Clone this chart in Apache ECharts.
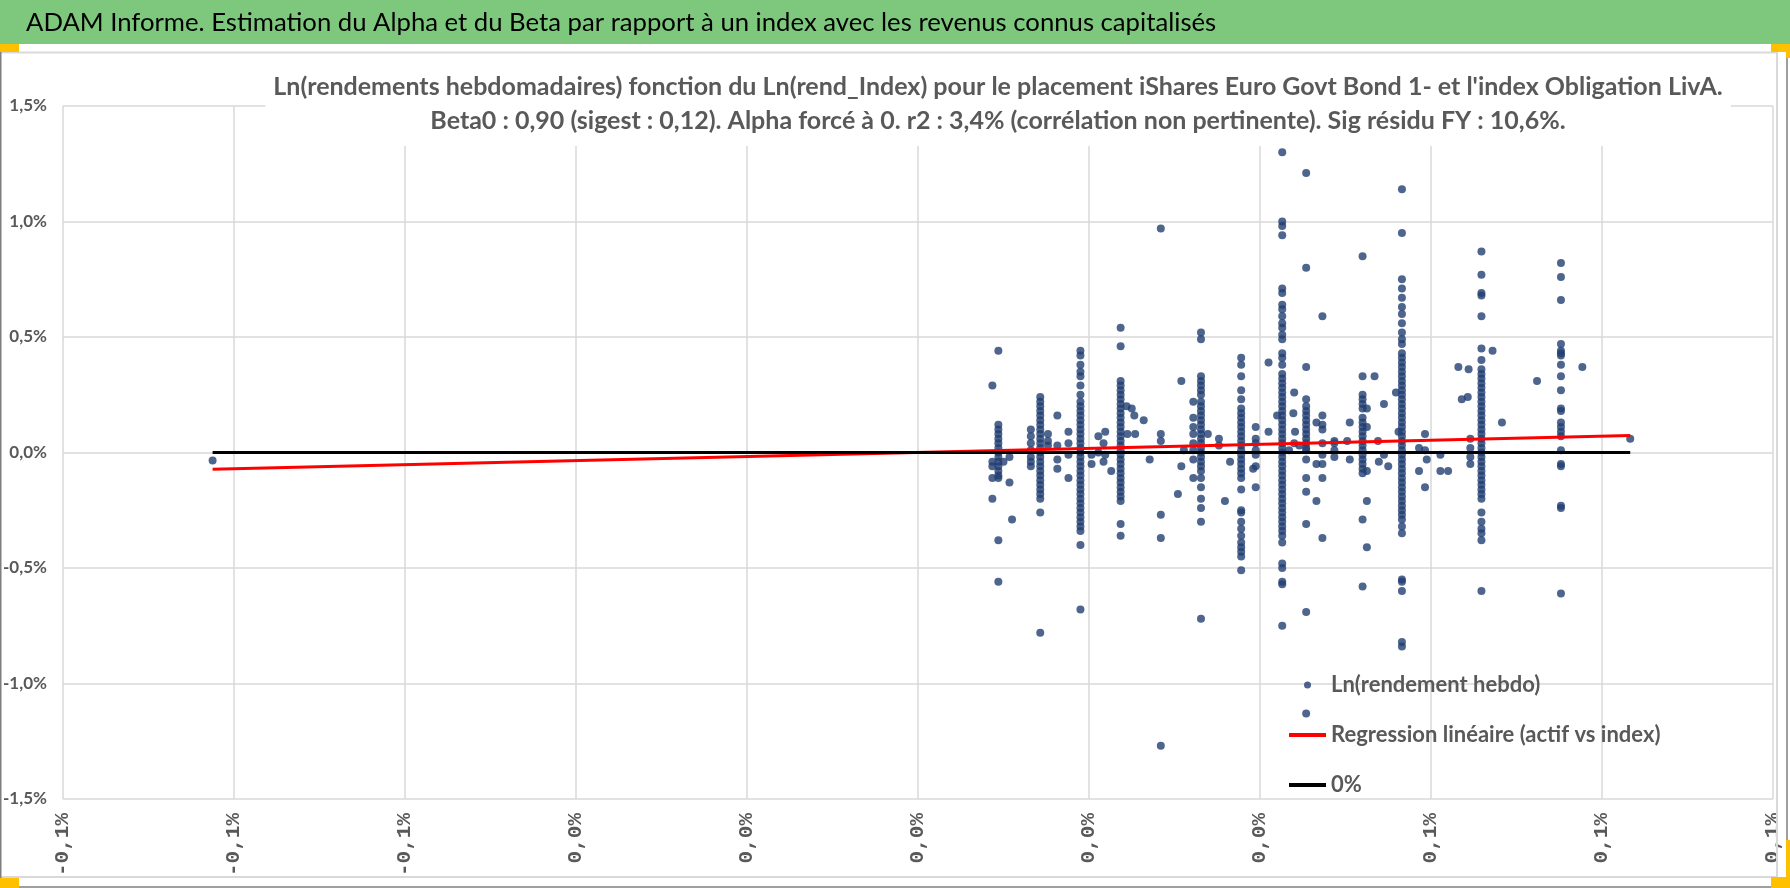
<!DOCTYPE html>
<html>
<head>
<meta charset="utf-8">
<script src="https://cdn.jsdelivr.net/npm/echarts@6/dist/echarts.min.js"></script>
<style>
  html, body { margin: 0; padding: 0; background: #fff; }
  #chart { width: 1790px; height: 888px; }
</style>
</head>
<body>
<div id="chart"></div>
<script>
// textes
var pageTitle = "ADAM Informe. Estimation du Alpha et du Beta par rapport à un index avec les revenus connus capitalisés";
var chartTitle1 = "Ln(rendements hebdomadaires) fonction du Ln(rend_Index) pour le placement iShares Euro Govt Bond 1- et l'index Obligation LivA.";
var chartTitle2 = "Beta0 : 0,90 (sigest : 0,12). Alpha forcé à 0. r2 : 3,4% (corrélation non pertinente). Sig résidu FY : 10,6%.";
var seriesNames = ["Ln(rendement hebdo)", "Regression linéaire (actif vs index)", "0%"];

// graduations (en %)
var xTickLabels = ["-0,1%", "-0,1%", "-0,1%", "0,0%", "0,0%", "0,0%", "0,0%", "0,0%", "0,1%", "0,1%", "0,1%"];
var yTickLabels = ["-1,5%", "-1,0%", "-0,5%", "0,0%", "0,5%", "1,0%", "1,5%"];
var xMin = -0.1, xMax = 0.1, xStep = 0.02;
var yMin = -1.5, yMax = 1.5, yStep = 0.5;

// rendement de l'index (x, en %) pour chaque colonne de points
var colX = [0.0094, 0.0143, 0.0190, 0.0237, 0.0284, 0.0331, 0.0378, 0.0426, 0.0454, 0.0520, 0.0566, 0.0659, 0.0752];

// rendements hebdo (y, en %) lus colonne par colonne
var colA = [0.44, 0.12, 0.10, 0.08, 0.06, 0.04, 0.02, 0.00, -0.02, -0.04, -0.06, -0.08, -0.10, -0.11, -0.38, -0.56];
var colB = [0.24, 0.22, 0.20, 0.18, 0.16, 0.14, 0.12, 0.10, 0.08, 0.06, 0.04, 0.02, 0.00, -0.02, -0.04, -0.06, -0.08, -0.10, -0.12, -0.14, -0.16, -0.18, -0.20, -0.26, -0.78];
var colC = [0.44, 0.42, 0.38, 0.35, 0.33, 0.29, 0.25, 0.22, 0.20, 0.18, 0.16, 0.14, 0.12, 0.10, 0.08, 0.06, 0.04, 0.02, 0.00, -0.02, -0.04, -0.06, -0.08, -0.10, -0.12, -0.14, -0.16, -0.18, -0.20, -0.22, -0.24, -0.26, -0.28, -0.30, -0.32, -0.34, -0.40, -0.68];
var colD = [0.54, 0.46, 0.31, 0.29, 0.27, 0.25, 0.23, 0.21, 0.19, 0.17, 0.15, 0.13, 0.11, 0.09, 0.07, 0.05, 0.03, 0.01, -0.01, -0.03, -0.05, -0.07, -0.09, -0.11, -0.13, -0.15, -0.17, -0.19, -0.21, -0.31, -0.36];
var colE = [0.97, 0.08, 0.05, -0.27, -0.37, -1.27];
var colF = [0.52, 0.49, 0.33, 0.31, 0.29, 0.27, 0.25, 0.22, 0.20, 0.18, 0.16, 0.14, 0.12, 0.10, 0.08, 0.06, 0.04, 0.02, 0.00, -0.02, -0.04, -0.06, -0.08, -0.11, -0.15, -0.20, -0.24, -0.30, -0.72];
var colG = [0.41, 0.38, 0.33, 0.27, 0.23, 0.19, 0.17, 0.15, 0.13, 0.11, 0.09, 0.07, 0.05, 0.03, 0.01, -0.01, -0.03, -0.05, -0.07, -0.09, -0.11, -0.16, -0.25, -0.26, -0.30, -0.33, -0.36, -0.39, -0.41, -0.43, -0.45, -0.51];
var colH = [1.30, 1.00, 0.98, 0.94, 0.71, 0.69, 0.64, 0.62, 0.59, 0.56, 0.54, 0.51, 0.49, 0.43, 0.41, 0.38, 0.34, 0.32, 0.30, 0.28, 0.26, 0.24, 0.22, 0.20, 0.18, 0.16, 0.14, 0.12, 0.10, 0.08, 0.06, 0.04, 0.02, 0.00, -0.02, -0.04, -0.06, -0.08, -0.10, -0.12, -0.14, -0.16, -0.18, -0.20, -0.22, -0.24, -0.26, -0.28, -0.30, -0.32, -0.34, -0.36, -0.39, -0.48, -0.50, -0.56, -0.57, -0.75];
var colI = [1.21, 0.80, 0.37, 0.23, 0.20, 0.18, 0.16, 0.14, 0.12, 0.10, 0.08, 0.06, 0.04, 0.02, 0.01, -0.03, -0.11, -0.17, -0.31, -0.69, -1.13];
var colJ = [0.85, 0.33, 0.25, 0.23, 0.21, 0.19, 0.15, 0.13, 0.11, 0.09, 0.07, 0.05, 0.03, 0.01, -0.01, -0.03, -0.05, -0.07, -0.09, -0.29, -0.58];
var colK = [1.14, 0.95, 0.75, 0.71, 0.67, 0.63, 0.60, 0.56, 0.52, 0.49, 0.47, 0.43, 0.41, 0.39, 0.37, 0.35, 0.33, 0.31, 0.29, 0.27, 0.25, 0.23, 0.21, 0.19, 0.17, 0.15, 0.13, 0.11, 0.09, 0.07, 0.05, 0.03, 0.01, -0.01, -0.03, -0.05, -0.07, -0.09, -0.11, -0.13, -0.15, -0.17, -0.19, -0.21, -0.23, -0.25, -0.27, -0.29, -0.32, -0.35, -0.55, -0.56, -0.60, -0.82, -0.84];
var colL = [0.87, 0.77, 0.69, 0.68, 0.59, 0.45, 0.40, 0.36, 0.34, 0.32, 0.30, 0.28, 0.26, 0.24, 0.22, 0.20, 0.18, 0.16, 0.14, 0.12, 0.10, 0.08, 0.06, 0.04, 0.02, 0.00, -0.02, -0.04, -0.06, -0.08, -0.10, -0.12, -0.14, -0.16, -0.18, -0.20, -0.26, -0.30, -0.33, -0.35, -0.38, -0.60];
var colM = [0.82, 0.76, 0.66, 0.47, 0.44, 0.43, 0.42, 0.38, 0.33, 0.27, 0.19, 0.18, 0.13, 0.11, 0.09, 0.07, 0.01, -0.05, -0.06, -0.23, -0.24, -0.61];
var colY = [colA, colB, colC, colD, colE, colF, colG, colH, colI, colJ, colK, colL, colM];

// points isolés hors colonnes
var strayX = [-0.0825, 0.0087, 0.0087, 0.0087, 0.0087, 0.0087, 0.0100, 0.0107, 0.0107, 0.0110,
  0.0132, 0.0132, 0.0132, 0.0132, 0.0132, 0.0132, 0.0132, 0.0152, 0.0152, 0.0152, 0.0163, 0.0163, 0.0163, 0.0163,
  0.0176, 0.0176, 0.0176, 0.0176, 0.0203, 0.0203, 0.0211, 0.0211, 0.0217, 0.0217, 0.0219, 0.0219, 0.0226,
  0.0244, 0.0250, 0.0253, 0.0264, 0.0245, 0.0254, 0.0271, 0.0308, 0.0308, 0.0311, 0.0304,
  0.0322, 0.0322, 0.0322, 0.0322, 0.0322, 0.0322, 0.0322, 0.0322, 0.0339, 0.0352, 0.0352, 0.0365, 0.0359,
  0.0395, 0.0395, 0.0395, 0.0395, 0.0395, 0.0395, 0.0395, 0.0392, 0.0410, 0.0410, 0.0420,
  0.0440, 0.0440, 0.0439, 0.0441, 0.0446, 0.0434, 0.0473, 0.0473, 0.0473, 0.0473, 0.0473, 0.0473, 0.0473, 0.0473, 0.0473,
  0.0466, 0.0466, 0.0466, 0.0487, 0.0487, 0.0487, 0.0487, 0.0502, 0.0505, 0.0505,
  0.0525, 0.0525, 0.0525, 0.0525, 0.0525, 0.0534, 0.0538, 0.0539, 0.0545, 0.0545, 0.0550, 0.0559, 0.0562,
  0.0586, 0.0586, 0.0593, 0.0593, 0.0593, 0.0595, 0.0611, 0.0611, 0.0620, 0.0632, 0.0644, 0.0636, 0.0643,
  0.0646, 0.0646, 0.0646, 0.0646, 0.0672, 0.0683, 0.0724, 0.0777, 0.0833];
var strayY = [-0.035, 0.29, -0.04, -0.06, -0.11, -0.20, -0.04, -0.02, -0.13, -0.29,
  0.10, 0.07, 0.04, 0.01, -0.02, -0.04, -0.06, 0.08, 0.05, 0.03, 0.16, 0.03, -0.03, -0.07,
  0.09, 0.04, -0.01, -0.11, -0.01, -0.05, 0.07, 0.00, 0.04, -0.04, 0.09, -0.01, -0.08,
  0.20, 0.19, 0.16, 0.14, 0.08, 0.08, -0.03, 0.31, -0.06, 0.01, -0.18,
  0.22, 0.15, 0.11, 0.08, 0.04, 0.01, -0.03, -0.11, 0.08, 0.06, 0.03, -0.04, -0.21,
  0.11, 0.06, 0.04, 0.01, -0.01, -0.06, -0.15, -0.07, 0.39, 0.09, 0.16,
  0.26, 0.04, 0.17, 0.09, 0.03, 0.01, 0.59, 0.16, 0.12, 0.10, 0.04, -0.01, -0.05, -0.11, -0.37,
  0.13, -0.05, -0.21, 0.05, 0.04, 0.01, -0.02, 0.05, 0.13, -0.03,
  0.19, 0.11, -0.08, -0.21, -0.41, 0.33, 0.05, -0.04, 0.21, -0.01, -0.06, 0.26, 0.09,
  0.02, -0.08, 0.08, 0.01, -0.15, -0.03, -0.01, -0.08, -0.08, 0.37, 0.36, 0.23, 0.24,
  0.06, 0.02, -0.02, -0.05, 0.44, 0.13, 0.31, 0.37, 0.06];

// droite de régression et ligne 0 %
var lineX = [-0.0825, 0.0833];
var regY = [-0.072, 0.074];
var zeroY = [0, 0];

var scatterData = [];
for (var i in colX) {
  for (var j in colY[i]) {
    scatterData.push([colX[i], colY[i][j]]);
  }
}
for (var k in strayX) {
  scatterData.push([strayX[k], strayY[k]]);
}
var regData = [], zeroData = [];
for (var n in lineX) {
  regData.push([lineX[n], regY[n]]);
  zeroData.push([lineX[n], zeroY[n]]);
}

var sans = "Lato, 'Open Sans', sans-serif";
var gridColor = '#d9d9d9';
var textGray = '#595959';
var lineIcon = 'path://M0,0 L37,0 L37,4 L0,4 Z';

var chart = echarts.init(document.getElementById('chart'));
var option = {
  animation: false,
  backgroundColor: '#fff',
  title: {
    text: chartTitle1 + '\n' + chartTitle2,
    left: 990,
    top: 70,
    textAlign: 'center',
    backgroundColor: '#fff',
    padding: [0, 8, 8, 8],
    textStyle: {
      fontFamily: sans,
      fontSize: 25,
      fontWeight: 'bold',
      color: textGray,
      lineHeight: 34
    }
  },
  legend: {
    orient: 'vertical',
    left: 1284,
    top: 666,
    itemWidth: 37,
    itemHeight: 7,
    itemGap: 22,
    data: [
      { name: seriesNames[0], icon: 'circle' },
      { name: seriesNames[1], icon: lineIcon },
      { name: seriesNames[2], icon: lineIcon }
    ],
    textStyle: {
      fontFamily: sans,
      fontSize: 22,
      fontWeight: 'bold',
      color: textGray,
      lineHeight: 28
    }
  },
  grid: {
    left: 59,
    right: 17,
    top: 106,
    bottom: 89
  },
  xAxis: {
    type: 'value',
    min: xMin,
    max: xMax,
    interval: xStep,
    axisLine: { show: false },
    axisTick: { show: false },
    splitLine: { lineStyle: { color: gridColor, width: 1.5 } },
    axisLabel: {
      rotate: 90,
      margin: 14,
      fontFamily: "'Liberation Mono', 'Courier New', monospace",
      fontWeight: 'bold',
      fontSize: 21,
      color: textGray,
      showMinLabel: true,
      showMaxLabel: true,
      formatter: function(v) {
        return xTickLabels[Math.round((v - xMin) / xStep)];
      }
    }
  },
  yAxis: {
    type: 'value',
    min: yMin,
    max: yMax,
    interval: yStep,
    axisLine: { show: false },
    axisTick: { show: false },
    splitLine: { lineStyle: { color: gridColor, width: 1.5 } },
    axisLabel: {
      margin: 16,
      fontFamily: sans,
      fontWeight: 'bold',
      fontSize: 17,
      color: textGray,
      formatter: function(v) {
        return yTickLabels[Math.round((v - yMin) / yStep)];
      }
    }
  },
  series: [{
    name: seriesNames[0],
    type: 'scatter',
    data: scatterData,
    symbol: 'circle',
    symbolSize: 8,
    itemStyle: { color: '#223f72' }
  }, {
    name: seriesNames[1],
    type: 'line',
    data: regData,
    symbol: 'none',
    lineStyle: { color: '#ff0000', width: 3 },
    itemStyle: { color: '#ff0000' }
  }, {
    name: seriesNames[2],
    type: 'line',
    data: zeroData,
    symbol: 'none',
    lineStyle: { color: '#000000', width: 3 },
    itemStyle: { color: '#000000' }
  }],
  graphic: [
    { type: 'rect', shape: { x: 0, y: 0, width: 1790, height: 44 }, style: { fill: '#7ec87e' }, z: 100 },
    { type: 'text', style: { text: pageTitle, x: 26, y: 23, textVerticalAlign: 'middle', verticalAlign: 'middle', font: '25.7px ' + sans, fill: '#000' }, z: 101 },
    { type: 'line', shape: { x1: 0, y1: 52.5, x2: 1777, y2: 52.5 }, style: { stroke: gridColor, lineWidth: 2 }, z: 100 },
    { type: 'line', shape: { x1: 1777, y1: 52, x2: 1777, y2: 877 }, style: { stroke: gridColor, lineWidth: 2 }, z: 100 },
    { type: 'line', shape: { x1: 0, y1: 877, x2: 1777, y2: 877 }, style: { stroke: gridColor, lineWidth: 2 }, z: 100 },
    { type: 'line', shape: { x1: 0.75, y1: 52, x2: 0.75, y2: 888 }, style: { stroke: '#7f7f7f', lineWidth: 1.5 }, z: 100 },
    { type: 'line', shape: { x1: 0, y1: 887, x2: 1790, y2: 887 }, style: { stroke: '#7f7f7f', lineWidth: 1.5 }, z: 100 },
    { type: 'line', shape: { x1: 1787, y1: 58, x2: 1787, y2: 840 }, style: { stroke: '#7f7f7f', lineWidth: 1.5 }, z: 100 },
    { type: 'rect', shape: { x: 0, y: 44, width: 19, height: 8 }, style: { fill: '#ffc000' }, z: 102 },
    { type: 'rect', shape: { x: 1771, y: 44, width: 19, height: 8 }, style: { fill: '#ffc000' }, z: 102 },
    { type: 'rect', shape: { x: 1786, y: 44, width: 4, height: 14 }, style: { fill: '#ffc000' }, z: 102 },
    { type: 'rect', shape: { x: 0, y: 878, width: 19, height: 10 }, style: { fill: '#ffc000' }, z: 102 },
    { type: 'rect', shape: { x: 1771, y: 877, width: 19, height: 11 }, style: { fill: '#ffc000' }, z: 102 },
    { type: 'rect', shape: { x: 1786, y: 840, width: 4, height: 48 }, style: { fill: '#ffc000' }, z: 102 }
  ]
};
chart.setOption(option);
</script>
</body>
</html>
